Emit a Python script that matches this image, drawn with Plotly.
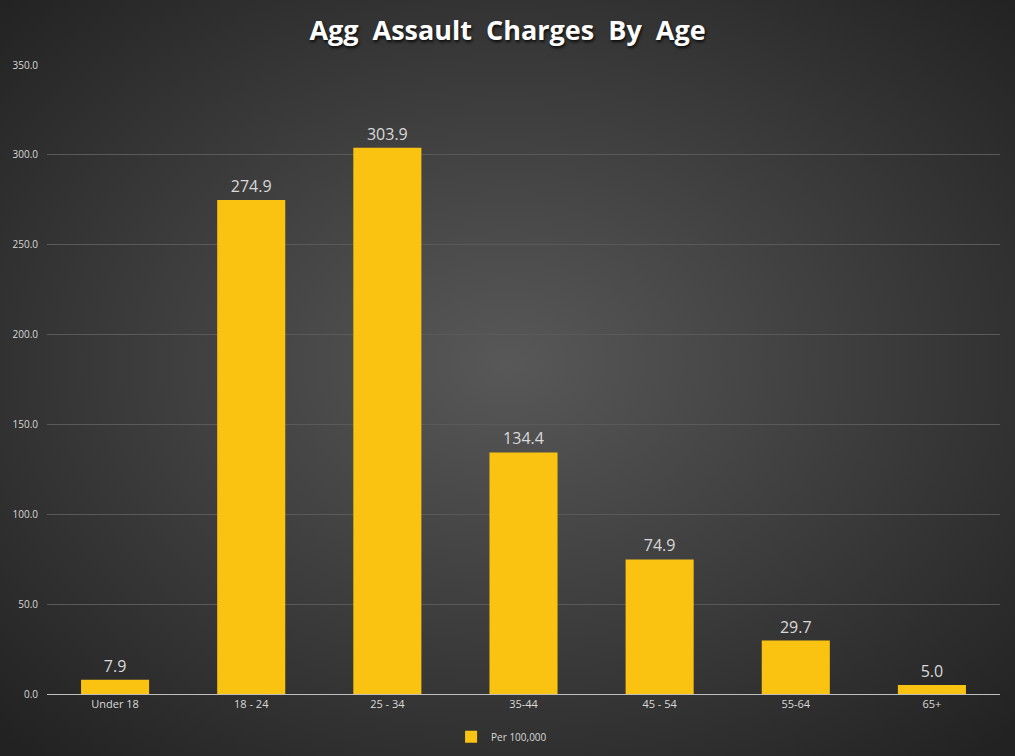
import base64
import plotly.graph_objects as go

categories = ['Under 18', '18 - 24', '25 - 34', '35-44', '45 - 54', '55-64', '65+']
per_100k = [7.9, 274.9, 303.9, 134.4, 74.9, 29.7, 5.0]

# radial grey background like the Excel chart style
svg = '''<svg xmlns="http://www.w3.org/2000/svg" width="1015" height="756" viewBox="0 0 1015 756" preserveAspectRatio="none">
<defs><radialGradient id="g" cx="50%" cy="48%" r="70%">
<stop offset="0" stop-color="#585858"/><stop offset="1" stop-color="#222222"/>
</radialGradient></defs>
<rect width="1015" height="756" fill="url(#g)"/></svg>'''
bg = 'data:image/svg+xml;base64,' + base64.b64encode(svg.encode()).decode()

fig = go.Figure()
fig.add_trace(go.Bar(
    x=categories,
    y=per_100k,
    name='Per 100,000',
    marker=dict(color='#FAC312', line_width=0),
    width=0.5,
    text=[f'{v:.1f}' for v in per_100k],
    textposition='outside',
    textfont=dict(size=16, color='#D9D9D9', family='Open Sans'),
    cliponaxis=False,
))

fig.update_layout(
    width=1015,
    height=756,
    margin=dict(l=47, r=15, t=65, b=62, autoexpand=False),
    paper_bgcolor='#2e2e2e',
    plot_bgcolor='rgba(0,0,0,0)',
    font=dict(family='Open Sans', color='#D9D9D9', size=10),
    title=dict(
        text='<b>Agg  Assault  Charges  By  Age</b>',
        x=0.5, xanchor='center', y=0.96, yanchor='middle',
        font=dict(size=27, color='#FFFFFF', family='Open Sans',
                  shadow='1px 2px 3px rgba(0,0,0,0.8)'),
    ),
    showlegend=True,
    legend=dict(orientation='h', x=0.477, xanchor='center', y=-0.045, yanchor='top',
                bgcolor='rgba(0,0,0,0)', font=dict(size=10, color='#D9D9D9'),
                itemwidth=30),
    bargap=0.5,
    images=[dict(source=bg, xref='paper', yref='paper',
                 x=-47 / 953, y=1 + 65 / 629, sizex=1015 / 953, sizey=756 / 629,
                 xanchor='left', yanchor='top', sizing='stretch', layer='below')],
)
fig.update_yaxes(range=[0, 350], dtick=50, tickformat='.1f', showgrid=True,
                 gridcolor='#5a5a5a', gridwidth=1, zeroline=False,
                 tickfont=dict(size=10, color='#D9D9D9'), ticks='', ticklabelstandoff=8)
fig.update_xaxes(showline=True, linecolor='#BFBFBF', linewidth=1, ticks='',
                 tickfont=dict(size=11, color='#D9D9D9'))

fig.write_html('out.html', config={'displayModeBar': False},
               post_script="document.body.style.margin='0';")
